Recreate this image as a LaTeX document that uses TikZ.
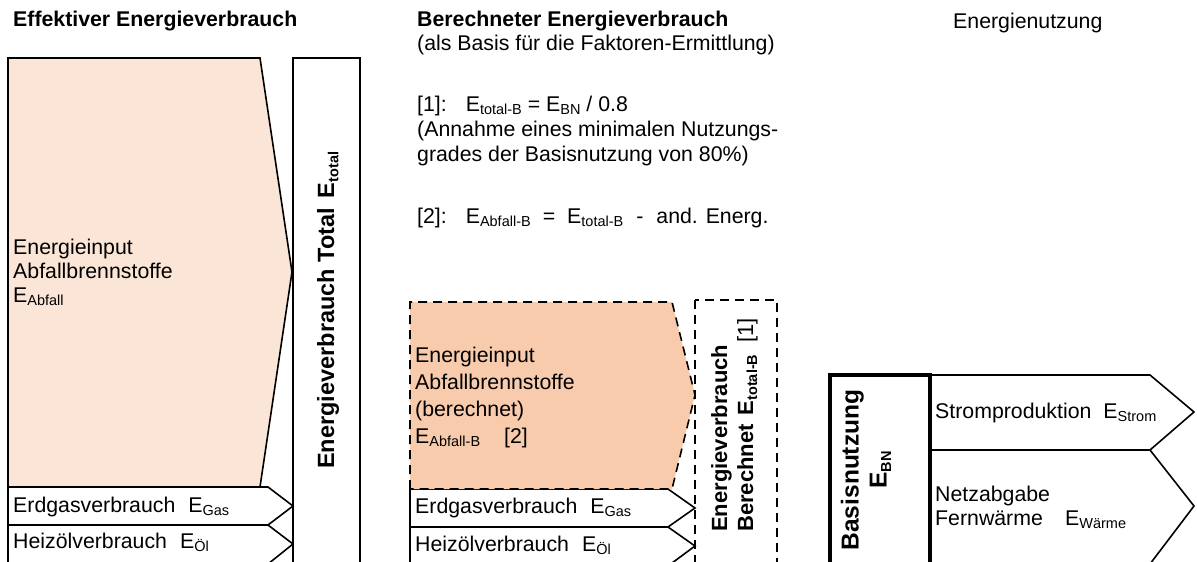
\documentclass[tikz,border=0pt]{standalone}
\usepackage{fontspec}
\setmainfont{Liberation Sans}
\usetikzlibrary{positioning}

\definecolor{peachlight}{HTML}{FBE5D6}
\definecolor{peachdark}{HTML}{F8CBAD}

\newcommand{\Esub}[1]{E\raisebox{-0.35ex}{\fontsize{14.5}{14.5}\selectfont #1}}

\tikzset{
  txt/.style={anchor=base west, inner sep=0pt, font=\fontsize{21.3}{24}\selectfont},
  head/.style={txt, font=\fontsize{21.3}{24}\selectfont\bfseries},
  vtxt/.style={anchor=base west, inner sep=0pt, rotate=90, font=\fontsize{22}{24}\selectfont\bfseries},
  block/.style={draw, line width=1.6pt, line join=miter},
  dashblock/.style={block, dash pattern=on 9pt off 6pt},
}

\begin{document}
\begin{tikzpicture}[x=1pt,y=-1pt]
  \clip (0,0) rectangle (1197,562);
  \fill[white] (0,0) rectangle (1197,562);

  % effektiver Verbrauch
  \draw[block, fill=peachlight] (8,58) -- (260,58) -- (292,272) -- (260,487) -- (8,487) -- cycle;
  \draw[block, fill=white] (8,487) -- (268,487) -- (293,506) -- (268,525) -- (8,525) -- cycle;
  \draw[block, fill=white] (8,525) -- (268,525) -- (293,544) -- (268,564) -- (8,564) -- cycle;
  \draw[block] (293,58) rectangle (360,580);

  % berechneter Verbrauch
  \draw[block, fill=white] (410,489) -- (668,489) -- (695,508) -- (668,527) -- (410,527) -- cycle;
  \draw[block, fill=white] (410,527) -- (668,527) -- (695,546) -- (668,566) -- (410,566) -- cycle;
  \fill[peachdark] (410,302) -- (672,302) -- (695,395) -- (672,489) -- (410,489) -- cycle;
  \draw[dashblock] (410,489) -- (410,302) -- (672,302) -- (695,395) -- (672,489) -- (410,489);
  \draw[dashblock] (695,300) rectangle (777,580);

  % Energienutzung
  \draw[block, fill=white] (930,375) -- (1150,375) -- (1194,412) -- (1150,450) -- (930,450) -- cycle;
  \draw[block, fill=white] (930,450) -- (1150,450) -- (1194,506) -- (1150,564) -- (930,564) -- cycle;
  \draw[line width=3.5pt] (830,375) rectangle (930,580);

  % Titel und Formeln
  \node[head] (effHead) at (13,27) {Effektiver Energieverbrauch};
  \node[head] (berHead) at (417,27) {Berechneter Energieverbrauch};
  \node[txt] (berSub) at (417,50) {(als Basis für die Faktoren-Ermittlung)};
  \node[txt] (formA) at (417,111) {[1]:\hspace{19pt}\Esub{total-B} = \Esub{BN} / 0.8};
  \node[txt] (formAa) at (417,136) {(Annahme eines minimalen Nutzungs-};
  \node[txt] (formAb) at (417,161) {grades der Basisnutzung von 80\%)};
  \node[txt] (formB) at (417,223) {[2]:\hspace{19pt}\Esub{Abfall-B}\hspace{12pt}=\hspace{12pt}\Esub{total-B}\hspace{13pt}-\hspace{13pt}and. Energ.};
  \node[txt] (nutzHead) at (953,28) {Energienutzung};

  % Beschriftungen links
  \node[txt, align=left] (abfallEff) at (13,302) {Energieinput\\Abfallbrennstoffe\\\Esub{Abfall}};
  \node[txt] (gasEff) at (13,512) {Erdgasverbrauch\hspace{13pt}\Esub{Gas}};
  \node[txt] (oelEff) at (13,548) {Heizölverbrauch\hspace{13pt}\Esub{Öl}};
  \node[vtxt, font=\fontsize{23.5}{24}\selectfont\bfseries] (totalEff) at (334,469) {Energieverbrauch Total\hspace{10pt}\Esub{total}};

  % Beschriftungen Mitte
  \node[txt, align=left, font=\fontsize{21.3}{27}\selectfont] (abfallBer) at (415,443) {Energieinput\\Abfallbrennstoffe\\(berechnet)\\\Esub{Abfall-B}\hspace{24pt}[2]};
  \node[txt] (gasBer) at (415,513) {Erdgasverbrauch\hspace{13pt}\Esub{Gas}};
  \node[txt] (oelBer) at (415,551) {Heizölverbrauch\hspace{13pt}\Esub{Öl}};
  \node[vtxt] (totalBerA) at (727,532) {Energieverbrauch};
  \node[vtxt] (totalBerB) at (753,532) {Berechnet\hspace{9pt}\Esub{total-B}\hspace{12pt}{\mdseries [1]}};

  % Beschriftungen rechts
  \node[rotate=90, align=center, inner sep=0pt, font=\fontsize{24.5}{28}\selectfont\bfseries] (basis) at (866,470) {Basisnutzung\\\Esub{BN}};
  \node[txt] (strom) at (935,418) {Stromproduktion\hspace{12pt}\Esub{Strom}};
  \node[txt, align=left] (waerme) at (935,525) {Netzabgabe\\Fernwärme};
  \node[txt] (waermeE) at (1065,525) {\Esub{Wärme}};
\end{tikzpicture}
\end{document}
